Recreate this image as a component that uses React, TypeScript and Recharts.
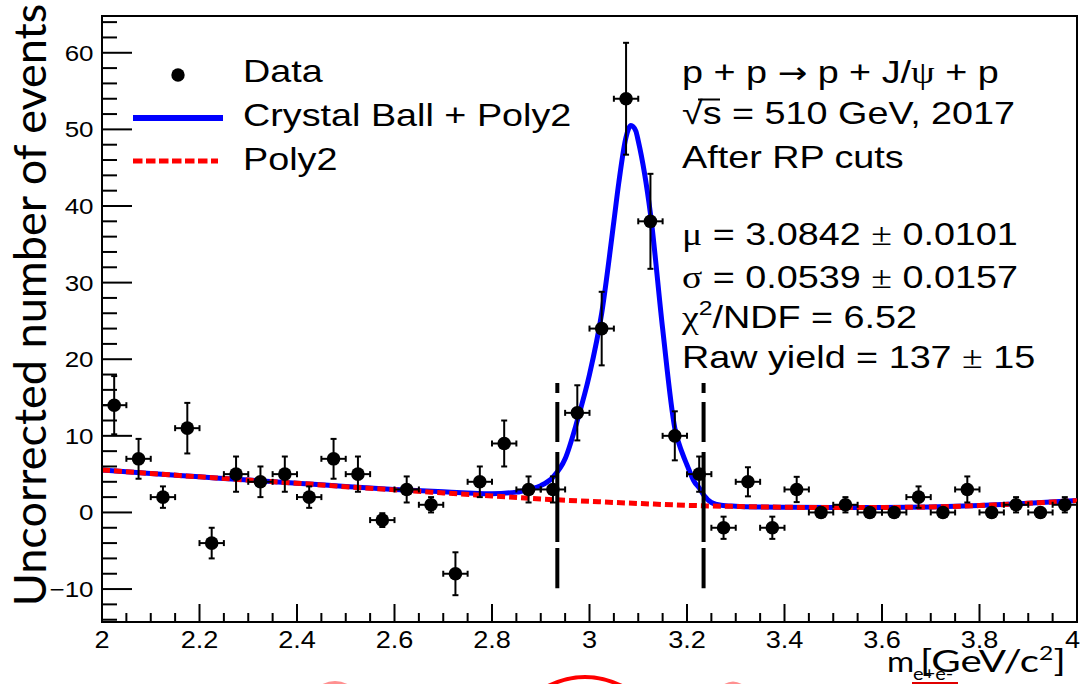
import React from 'react';
import { ComposedChart, XAxis, YAxis, Line, Scatter, ErrorBar, ReferenceLine, ReferenceArea } from 'recharts';

// ---------- data ----------
const binCenters = [2.025, 2.075, 2.125, 2.175, 2.225, 2.275, 2.325, 2.375, 2.425, 2.475, 2.525, 2.575, 2.625, 2.675, 2.725, 2.775, 2.825, 2.875, 2.925, 2.975, 3.025, 3.075, 3.125, 3.175, 3.225, 3.275, 3.325, 3.375, 3.425, 3.475, 3.525, 3.575, 3.625, 3.675, 3.725, 3.775, 3.825, 3.875, 3.925, 3.975];
const counts = [14, 7, 2, 11, -4, 5, 4, 5, 2, 7, 5, -1, 3, 1, -8, 4, 9, 3, 3, 13, 24, 54, 38, 10, 5, -2, 4, -2, 3, 0, 1, 0, 0, 2, 0, 3, 0, 1, 0, 1];
const countErrors = [3.8, 2.6, 1.4, 3.3, 2.0, 2.3, 2.0, 2.3, 1.4, 2.6, 2.3, 0.9, 1.7, 1.0, 2.8, 2.0, 3.0, 1.7, 1.7, 3.6, 4.8, 7.3, 6.2, 3.2, 2.3, 1.45, 1.9, 1.45, 1.65, 0, 1.0, 0, 0, 1.4, 0, 1.7, 0, 1.0, 0, 1.0];
const binHalfWidth = 0.025;

const totalFitX = [2.0, 2.1, 2.2, 2.3, 2.4, 2.5, 2.6, 2.7, 2.75, 2.8, 2.85, 2.875, 2.9, 2.925, 2.95, 2.975, 3.0, 3.025, 3.05, 3.06, 3.075, 3.085, 3.095, 3.1, 3.125, 3.15, 3.175, 3.19, 3.2, 3.215, 3.225, 3.235, 3.25, 3.27, 3.3, 3.35, 3.4, 3.5, 3.6, 3.7, 3.8, 3.9, 4.0];
const totalFitY = [5.55, 5.08, 4.65, 4.22, 3.82, 3.4, 3.0, 2.7, 2.55, 2.45, 2.65, 3.0, 3.5, 4.6, 7.0, 12.0, 18.0, 26.0, 38.0, 43.0, 49.0, 50.5, 49.8, 48.5, 39.0, 24.0, 11.0, 7.8, 6.2, 4.0, 3.2, 2.2, 1.3, 0.95, 0.82, 0.72, 0.68, 0.63, 0.64, 0.72, 0.9, 1.2, 1.55];

const bgFitX = [2.0, 2.1, 2.2, 2.3, 2.4, 2.5, 2.6, 2.7, 2.8, 2.9, 3.0, 3.1, 3.2, 3.3, 3.4, 3.5, 3.6, 3.7, 3.8, 3.9, 4.0];
const bgFitY = [5.55, 5.08, 4.65, 4.22, 3.82, 3.36, 2.95, 2.55, 2.15, 1.75, 1.45, 1.17, 0.93, 0.78, 0.68, 0.63, 0.64, 0.72, 0.9, 1.2, 1.55];

const massWindow = [2.934, 3.234];
const windowLineRange = [-9.9, 16.9];

const xTicks = [2, 2.05, 2.1, 2.15, 2.2, 2.25, 2.3, 2.35, 2.4, 2.45, 2.5, 2.55, 2.6, 2.65, 2.7, 2.75, 2.8, 2.85, 2.9, 2.95, 3, 3.05, 3.1, 3.15, 3.2, 3.25, 3.3, 3.35, 3.4, 3.45, 3.5, 3.55, 3.6, 3.65, 3.7, 3.75, 3.8, 3.85, 3.9, 3.95, 4];
const xMajorTicks = [2, 2.2, 2.4, 2.6, 2.8, 3, 3.2, 3.4, 3.6, 3.8, 4];
const xMajorLabels = ['2', '2.2', '2.4', '2.6', '2.8', '3', '3.2', '3.4', '3.6', '3.8', '4'];
const yTicks = [-14, -12, -10, -8, -6, -4, -2, 0, 2, 4, 6, 8, 10, 12, 14, 16, 18, 20, 22, 24, 26, 28, 30, 32, 34, 36, 38, 40, 42, 44, 46, 48, 50, 52, 54, 56, 58, 60, 62, 64];
const yMajorTicks = [-10, 0, 10, 20, 30, 40, 50, 60];
const yMajorLabels = ['\u221210', '0', '10', '20', '30', '40', '50', '60'];
const xDomain = [2, 4];
const yDomain = [-14.3, 64.8];

// ---------- tables for the library ----------
const points = binCenters.map((x, i) => ({ x, y: counts[i], ey: countErrors[i], ex: binHalfWidth }));
const totalFit = totalFitX.map((x, i) => ({ x, y: totalFitY[i] }));
const bgFit = bgFitX.map((x, i) => ({ x, y: bgFitY[i] }));

const SX = 1.18;
const SANS = '"Liberation Sans", Arial, Helvetica, sans-serif';
const SERIF = '"Liberation Serif", "Times New Roman", serif';
const LATO = 'Lato, "Open Sans", sans-serif';

function XTick(props: any) {
  const { x, y, payload } = props;
  const v = payload.value;
  const idx = xMajorTicks.findIndex((m) => Math.abs(m - v) < 1e-6);
  const major = idx >= 0;
  const last = idx === xMajorTicks.length - 1;
  return (
    <g>
      <line x1={x} y1={y} x2={x} y2={y - (major ? 18 : 9)} stroke="#000" strokeWidth={2} />
      {major && (
        <text
          transform={`translate(${last ? x + 3 : x},${y + 26}) scale(${SX},1)`}
          textAnchor={last ? 'end' : 'middle'}
          fontSize={23}
          fontFamily={SANS}
          fill="#000"
        >
          {xMajorLabels[idx]}
        </text>
      )}
    </g>
  );
}

function YTick(props: any) {
  const { x, y, payload } = props;
  const v = payload.value;
  const idx = yMajorTicks.findIndex((m) => Math.abs(m - v) < 1e-6);
  const major = idx >= 0;
  return (
    <g>
      <line x1={x} y1={y} x2={x + (major ? 30 : 15)} y2={y} stroke="#000" strokeWidth={2} />
      {major && (
        <text transform={`translate(${x - 8.5},${y + 8}) scale(${SX},1)`} textAnchor="end" fontSize={22} fontFamily={SANS} fill="#000">
          {yMajorLabels[idx]}
        </text>
      )}
    </g>
  );
}

const dot = (props: any) => <circle cx={props.cx} cy={props.cy} r={6.8} fill="#000" />;

function T({ x, y, size = 32, children }: any) {
  return (
    <text transform={`translate(${x},${y}) scale(${SX},1)`} fontSize={size} fontFamily={SANS} fill="#000">
      {children}
    </text>
  );
}

function Overlay() {
  return (
    <svg width={1082} height={684} style={{ position: 'absolute', left: 0, top: 0, pointerEvents: 'none' }}>
      {/* legend */}
      <circle cx={178} cy={75} r={6.7} fill="#000" />
      <line x1={133} y1={118} x2={223} y2={118} stroke="#0000ff" strokeWidth={6} />
      <line x1={133} y1={161} x2={218} y2={161} stroke="#ff0000" strokeWidth={5} strokeDasharray="9.5 3.5" />
      <T x={243} y={82}>Data</T>
      <T x={243} y={126}>Crystal Ball + Poly2</T>
      <T x={243} y={169.5}>Poly2</T>

      {/* annotations */}
      <T x={682} y={83}>
        {'p + p '}
        <tspan fontFamily='"DejaVu Sans", sans-serif' fontSize={30}>{'\u2192'}</tspan>
        {' p + J/'}
        <tspan fontFamily={SERIF}>{'\u03c8'}</tspan>
        {' + p'}
      </T>
      <T x={682} y={124}>{'\u221as = 510 GeV, 2017'}</T>
      <line x1={698} y1={99.5} x2={720} y2={99.5} stroke="#000" strokeWidth={2} />
      <T x={682} y={168}>After RP cuts</T>
      <T x={682} y={245}>
        <tspan fontFamily={SERIF}>{'\u03bc'}</tspan>
        {' = 3.0842 '}
        <tspan fontFamily={SERIF}>{'\u00b1'}</tspan>
        {' 0.0101'}
      </T>
      <T x={682} y={288}>
        <tspan fontFamily={SERIF}>{'\u03c3'}</tspan>
        {' = 0.0539 '}
        <tspan fontFamily={SERIF}>{'\u00b1'}</tspan>
        {' 0.0157'}
      </T>
      <T x={682} y={328}>
        <tspan fontFamily={SERIF}>{'\u03c7'}</tspan>
        <tspan fontSize={21} dy={-13}>2</tspan>
        <tspan dy={13}>/NDF = 6.52</tspan>
      </T>
      <T x={682} y={368}>
        {'Raw yield = 137 '}
        <tspan fontFamily={SERIF}>{'\u00b1'}</tspan>
        {' 15'}
      </T>

      {/* axis titles */}
      <text transform="translate(46,305) rotate(-90)" textAnchor="middle" fontSize={45} fontFamily={LATO} fill="#000">
        Uncorrected number of events
      </text>
      <text transform={`translate(887,672) scale(${SX},1)`} fontSize={28} fontFamily={LATO} fill="#000">m</text>
      <text transform={`translate(913,680) scale(${SX},1)`} fontSize={17} fontFamily={LATO} fill="#000">e+e-</text>
      <text transform="translate(920,672) scale(1.3,1)" fontSize={31} fontFamily={LATO} fill="#000">
        {'[GeV/c'}
        <tspan fontSize={19} dy={-12}>2</tspan>
        <tspan dy={12}>]</tspan>
      </text>

      {/* red marks cut by the bottom edge */}
      <path d="M 548 686 Q 585 668 622 686" stroke="#ff0000" strokeWidth={4} fill="none" />
      <path d="M 322 686 Q 335 679 348 686" stroke="#ff9090" strokeWidth={3} fill="none" />
      <path d="M 724 686 Q 733 680 742 686" stroke="#ff9090" strokeWidth={3} fill="none" />
      <line x1={912} y1={683} x2={958} y2={683} stroke="#e00000" strokeWidth={2} />
    </svg>
  );
}

export default function App() {
  return (
    <div style={{ position: 'absolute', left: 0, top: 0, width: 1082, height: 684, background: '#fff' }}>
      <ComposedChart width={1082} height={684} margin={{ top: 16, right: 5, bottom: 0, left: 0 }}>
        <XAxis
          type="number"
          dataKey="x"
          domain={xDomain}
          allowDataOverflow
          ticks={xTicks}
          interval={0}
          tickSize={0}
          tickMargin={0}
          height={62}
          axisLine={{ stroke: '#000', strokeWidth: 2 }}
          tickLine={false}
          tick={<XTick />}
        />
        <YAxis
          type="number"
          domain={yDomain}
          allowDataOverflow
          ticks={yTicks}
          interval={0}
          tickSize={0}
          tickMargin={0}
          width={102}
          axisLine={{ stroke: '#000', strokeWidth: 2 }}
          tickLine={false}
          tick={<YTick />}
        />
        <ReferenceArea x1={xDomain[0]} x2={xDomain[1]} y1={yDomain[0]} y2={yDomain[1]} fill="none" fillOpacity={0} stroke="#000" strokeWidth={2} />
        <Line data={totalFit} dataKey="y" type="monotone" stroke="#0000ff" strokeWidth={5} dot={false} isAnimationActive={false} />
        <Line data={bgFit} dataKey="y" type="monotone" stroke="#ff0000" strokeWidth={5} strokeDasharray="8 4" dot={false} isAnimationActive={false} />
        {massWindow.map((m) => (
          <ReferenceLine
            key={m}
            segment={[{ x: m, y: windowLineRange[1] }, { x: m, y: windowLineRange[0] }]}
            stroke="#000"
            strokeWidth={4}
            strokeDasharray="10 9 40 10 90 6 42"
          />
        ))}
        <Scatter data={points} dataKey="y" shape={dot} isAnimationActive={false}>
          <ErrorBar dataKey="ey" direction="y" width={3} stroke="#000" strokeWidth={2} />
          <ErrorBar dataKey="ex" direction="x" width={3} stroke="#000" strokeWidth={2} />
        </Scatter>
      </ComposedChart>
      <Overlay />
    </div>
  );
}
